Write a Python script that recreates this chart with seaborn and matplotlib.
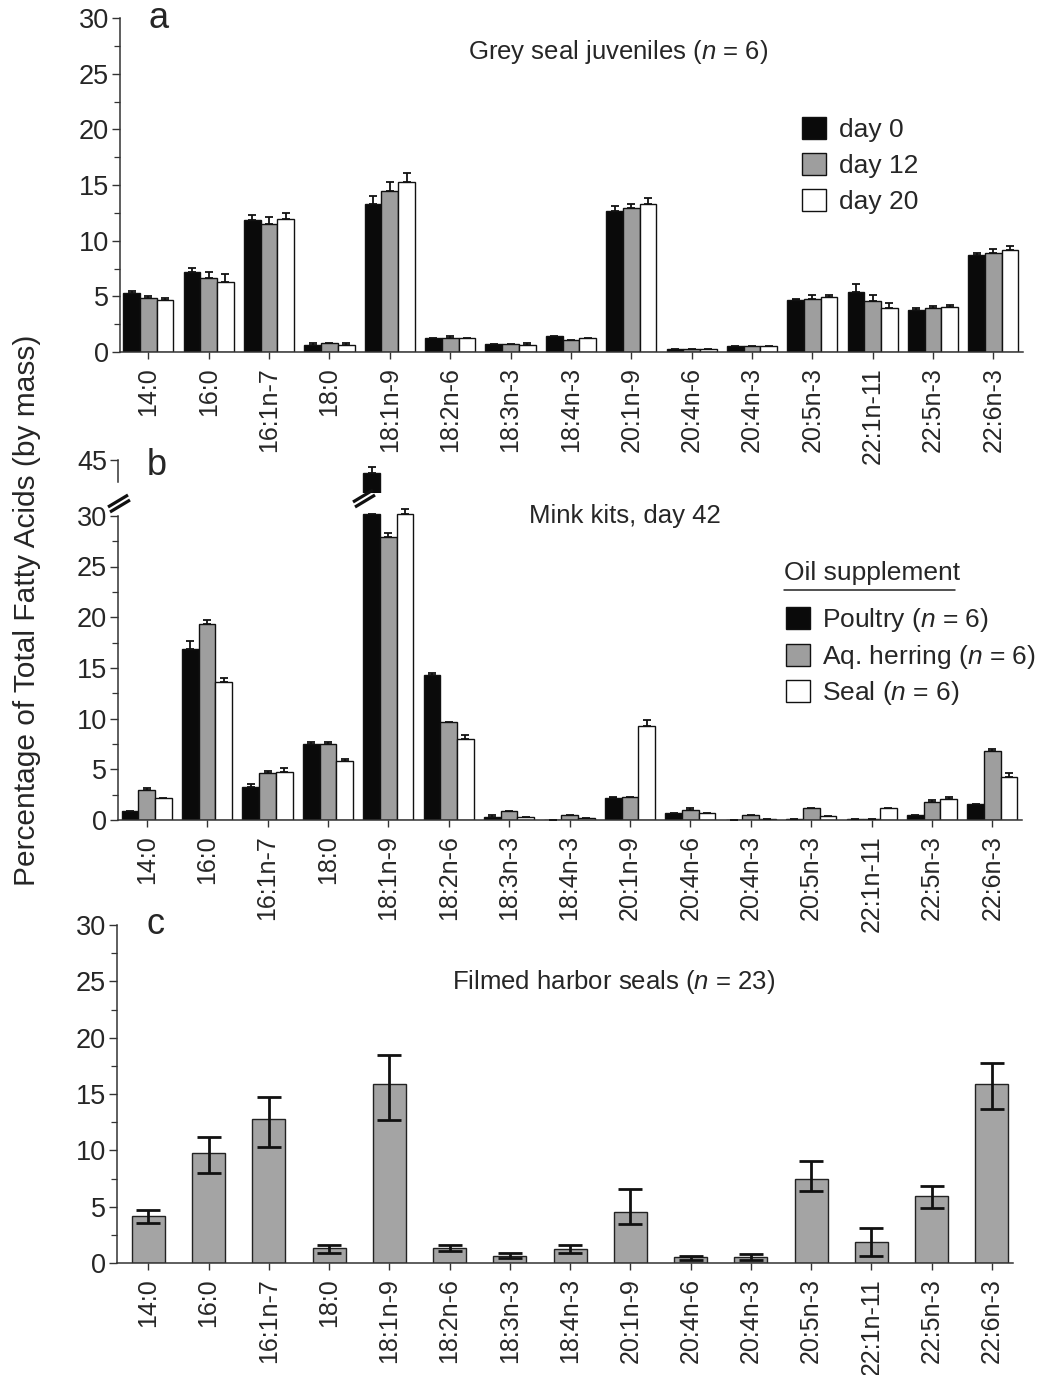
import numpy as np
import pandas as pd
import matplotlib
matplotlib.use("Agg")
import matplotlib.pyplot as plt
from matplotlib.ticker import MultipleLocator, FixedLocator
from matplotlib.lines import Line2D
from matplotlib.patches import Patch
import seaborn as sns

# ---------------------------------------------------------------- data
acids = ["14:0", "16:0", "16:1n-7", "18:0", "18:1n-9", "18:2n-6", "18:3n-3",
         "18:4n-3", "20:1n-9", "20:4n-6", "20:4n-3", "20:5n-3", "22:1n-11",
         "22:5n-3", "22:6n-3"]

# (a) grey seal juveniles, mean and upper error
grey_day0 = [5.30, 7.15, 11.85, 0.65, 13.30, 1.28, 0.74, 1.40, 12.70, 0.25, 0.58, 4.63, 5.43, 3.76, 8.74]
grey_day0_err = [0.20, 0.36, 0.48, 0.15, 0.67, 0.00, 0.00, 0.00, 0.42, 0.00, 0.00, 0.14, 0.66, 0.15, 0.15]
grey_day12 = [4.83, 6.65, 11.46, 0.80, 14.44, 1.28, 0.74, 1.10, 12.95, 0.25, 0.58, 4.74, 4.59, 3.94, 8.89]
grey_day12_err = [0.17, 0.51, 0.68, 0.00, 0.83, 0.15, 0.00, 0.00, 0.33, 0.00, 0.00, 0.39, 0.51, 0.15, 0.36]
grey_day20 = [4.65, 6.32, 11.96, 0.62, 15.27, 1.25, 0.60, 1.22, 13.25, 0.25, 0.58, 4.92, 3.91, 4.06, 9.19]
grey_day20_err = [0.18, 0.66, 0.54, 0.18, 0.84, 0.00, 0.17, 0.00, 0.54, 0.00, 0.00, 0.18, 0.50, 0.18, 0.36]
grey_groups = ["day 0", "day 12", "day 20"]

# (b) mink kits, day 42, by oil supplement
mink_poultry = [0.92, 16.90, 3.29, 7.53, 43.75, 14.30, 0.33, 0.00, 2.14, 0.66, 0.00, 0.08, 0.08, 0.45, 1.57]
mink_poultry_err = [0.00, 0.78, 0.23, 0.16, 0.55, 0.23, 0.16, 0.00, 0.16, 0.00, 0.00, 0.00, 0.00, 0.00, 0.00]
mink_herring = [2.93, 19.33, 4.60, 7.50, 27.90, 9.66, 0.86, 0.50, 2.30, 1.02, 0.45, 1.17, 0.05, 1.74, 6.85]
mink_herring_err = [0.19, 0.36, 0.23, 0.19, 0.43, 0.00, 0.00, 0.00, 0.00, 0.18, 0.00, 0.00, 0.00, 0.20, 0.20]
mink_seal = [2.20, 13.64, 4.76, 5.85, 30.15, 8.02, 0.30, 0.15, 9.27, 0.66, 0.10, 0.42, 1.17, 2.10, 4.27]
mink_seal_err = [0.00, 0.36, 0.40, 0.20, 0.52, 0.36, 0.00, 0.00, 0.59, 0.00, 0.00, 0.00, 0.00, 0.20, 0.40]
mink_groups = ["Poultry ($n$ = 6)", "Aq. herring ($n$ = 6)", "Seal ($n$ = 6)"]

# (c) filmed harbor seals
harbor_mean = [4.15, 9.74, 12.76, 1.30, 15.90, 1.30, 0.66, 1.27, 4.49, 0.50, 0.50, 7.46, 1.83, 5.95, 15.86]
harbor_err_hi = [0.59, 1.45, 1.93, 0.30, 2.57, 0.30, 0.26, 0.33, 2.08, 0.15, 0.30, 1.60, 1.24, 0.92, 1.93]
harbor_err_lo = [0.60, 1.71, 2.42, 0.38, 3.23, 0.23, 0.24, 0.37, 1.06, 0.20, 0.20, 1.10, 1.24, 1.07, 2.22]

# ---------------------------------------------------------------- style
sns.set_style("ticks")
plt.rcParams["font.family"] = ["Liberation Sans", "DejaVu Sans"]
plt.rcParams["mathtext.fontset"] = "custom"
plt.rcParams["mathtext.rm"] = "Liberation Sans"
plt.rcParams["mathtext.it"] = "Liberation Sans:italic"
plt.rcParams["axes.linewidth"] = 1.1
plt.rcParams["axes.edgecolor"] = "#333333"

BLACK, GREY, WHITE = "#0a0a0a", "#9e9e9e", "#ffffff"
GREY_C = "#a4a4a4"
palette3 = [BLACK, GREY, WHITE]

W, H = 1039, 1375
fig = plt.figure(figsize=(W / 100, H / 100), dpi=100)
fig.patch.set_facecolor("white")


def box(left, right, top, bottom):
    return [left / W, 1 - bottom / H, (right - left) / W, (bottom - top) / H]


def long_frame(groups, series):
    rows = []
    for g, vals in zip(groups, series):
        for a, v in zip(acids, vals):
            rows.append({"acid": a, "group": g, "value": v})
    return pd.DataFrame(rows)


def style_axis(ax, ymax_tick, xlim, minor=True, xticks=True):
    sns.despine(ax=ax)
    ax.set_xlim(*xlim)
    ax.set_xlabel("")
    ax.set_ylabel("")
    ax.yaxis.set_major_locator(MultipleLocator(5))
    if minor:
        ax.yaxis.set_minor_locator(MultipleLocator(2.5))
    ax.spines["left"].set_bounds(0, ymax_tick)
    ax.tick_params(axis="y", which="major", length=6, width=1.0, labelsize=19.5, pad=2, color="#333333")
    ax.tick_params(axis="y", which="minor", length=4, width=0.9, color="#333333")
    if xticks:
        ax.tick_params(axis="x", which="major", length=5, width=1.0, labelsize=18, pad=6,
                       rotation=90, color="#333333")
    ax.set_facecolor("none")


def grouped_bars(ax, df, err_series, width=0.83, lw=1.0, cap=2.9, elw=1.3, clip_above=None):
    sns.barplot(data=df, x="acid", y="value", hue="group", palette=palette3,
                edgecolor="#111111", linewidth=lw, width=width, saturation=1,
                errorbar=None, legend=False, ax=ax)
    for cont, err in zip(ax.containers, err_series):
        xs = np.array([p.get_x() + p.get_width() / 2 for p in cont.patches])
        ys = np.array([p.get_height() for p in cont.patches])
        err = np.asarray(err, float)
        err = np.where(err > 0, err, np.nan)  # no cap where no spread is shown
        if clip_above is not None:
            err = np.where(ys >= clip_above, np.nan, err)
        ax.errorbar(xs, ys, yerr=[np.zeros_like(err), err], fmt="none",
                    ecolor="#111111", elinewidth=elw, capsize=cap, capthick=elw, zorder=5)


def square_handles():
    return [Patch(facecolor=c, edgecolor="#111111", linewidth=1.0) for c in palette3]


# ---------------------------------------------------------------- panel a
ax_a = fig.add_axes(box(120, 1023, 18, 352))
df_a = long_frame(grey_groups, [grey_day0, grey_day12, grey_day20])
grouped_bars(ax_a, df_a, [grey_day0_err, grey_day12_err, grey_day20_err])
ax_a.set_ylim(0, 30)
style_axis(ax_a, 30, (-0.47, 14.49))
ax_a.legend(handles=square_handles(), labels=grey_groups, loc="upper left",
            bbox_to_anchor=(802 / W, 1 - 117 / H), bbox_transform=fig.transFigure,
            frameon=False, fontsize=19, handlelength=0.9, handleheight=0.9,
            handletextpad=0.5, labelspacing=0.42, borderpad=0, borderaxespad=0)

# ---------------------------------------------------------------- panel b (broken axis)
B_SCALE = 10.14  # px per unit on both segments
BREAK_AT = 30.2
ax_b = fig.add_axes(box(118, 1022, 820 - 31 * B_SCALE, 820))
ax_bt = fig.add_axes(box(118, 1022, 460, 493))
mink_series = [mink_poultry, mink_herring, mink_seal]
mink_errs = [mink_poultry_err, mink_herring_err, mink_seal_err]

df_b_low = long_frame(mink_groups, [np.minimum(s, BREAK_AT) for s in mink_series])
grouped_bars(ax_b, df_b_low, mink_errs, clip_above=BREAK_AT)
ax_b.set_ylim(0, 31)
style_axis(ax_b, 30, (-0.475, 14.49))
ax_b.yaxis.set_major_locator(FixedLocator([0, 5, 10, 15, 20, 25, 30]))

df_b_top = long_frame(mink_groups, mink_series)
grouped_bars(ax_bt, df_b_top, mink_errs)
ax_bt.set_ylim(45 - 33 / B_SCALE, 45)
style_axis(ax_bt, 45, (-0.475, 14.49), minor=False, xticks=False)
ax_bt.spines["left"].set_bounds(42.8, 45)
ax_bt.spines["bottom"].set_visible(False)
ax_bt.set_yticks([45])
ax_bt.set_xticks([])
ax_bt.yaxis.set_minor_locator(FixedLocator([]))

ax_b.legend(handles=square_handles(), labels=mink_groups, loc="upper left",
            bbox_to_anchor=(786 / W, 1 - 606 / H), bbox_transform=fig.transFigure,
            frameon=False, fontsize=19, handlelength=0.9, handleheight=0.9,
            handletextpad=0.45, labelspacing=0.33, borderpad=0, borderaxespad=0)
fig.text(784 / W, 1 - 573 / H, "Oil supplement", fontsize=19, ha="left", va="center")
fig.add_artist(Line2D([784 / W, 955 / W], [1 - 590 / H, 1 - 590 / H], color="#222222", lw=1.1))

# "//" break marks on the axis and across the tall bar
for x0, y0 in [(108, 507), (353, 502)]:
    for dx, dy in ((0, 0), (2, 5)):
        xa, ya = x0 + dx, y0 + dy
        fig.add_artist(Line2D([xa / W, (xa + 20) / W], [1 - ya / H, 1 - (ya - 12) / H],
                              color="#111111", lw=2.3, solid_capstyle="butt"))

# ---------------------------------------------------------------- panel c
ax_c = fig.add_axes(box(117, 1013, 925, 1263))
df_c = pd.DataFrame({"acid": acids, "value": harbor_mean})
sns.barplot(data=df_c, x="acid", y="value", color=GREY_C, saturation=1,
            edgecolor="#222222", linewidth=1.0, width=0.55, errorbar=None, ax=ax_c)
xs_c = np.array([p.get_x() + p.get_width() / 2 for p in ax_c.patches])
ax_c.errorbar(xs_c, harbor_mean, yerr=[harbor_err_lo, harbor_err_hi], fmt="none",
              ecolor="#111111", elinewidth=2.0, capsize=8.7, capthick=2.0, zorder=5)
ax_c.set_ylim(0, 30)
style_axis(ax_c, 30, (-0.52, 14.35))

# ---------------------------------------------------------------- text
fig.text(618 / W, 1 - 52 / H, "Grey seal juveniles ($n$ = 6)", fontsize=18.5, ha="center", va="center")
fig.text(625 / W, 1 - 516 / H, "Mink kits, day 42", fontsize=18.5, ha="center", va="center")
fig.text(614 / W, 1 - 982 / H, "Filmed harbor seals ($n$ = 23)", fontsize=18.5, ha="center", va="center")

fig.text(159 / W, 1 - 19 / H, "a", fontsize=26, ha="center", va="center")
fig.text(157 / W, 1 - 466 / H, "b", fontsize=26, ha="center", va="center")
fig.text(155 / W, 1 - 924 / H, "c", fontsize=26, ha="center", va="center")

fig.text(27 / W, 1 - 610 / H, "Percentage of Total Fatty Acids (by mass)", fontsize=21.5,
         rotation=90, ha="center", va="center")

fig.savefig("out.png", dpi=100, facecolor="white")
